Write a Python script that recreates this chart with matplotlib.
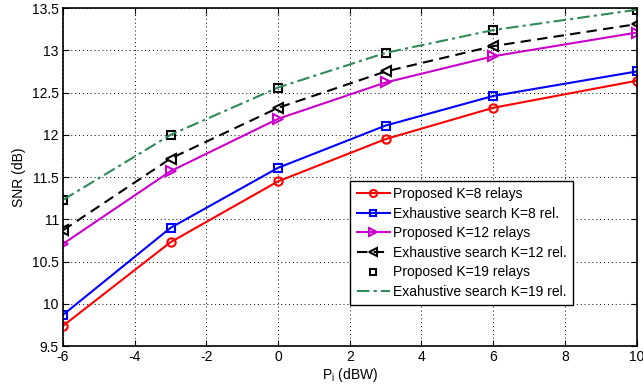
import matplotlib
matplotlib.use('Agg')
import matplotlib.pyplot as plt

plt.rcParams['font.family'] = ['Liberation Sans', 'DejaVu Sans']
plt.rcParams['mathtext.fontset'] = 'custom'
plt.rcParams['mathtext.rm'] = 'Liberation Sans'
plt.rcParams['mathtext.it'] = 'Liberation Sans'
plt.rcParams['axes.unicode_minus'] = False

# transmit power values (dBW)
p_dbw = [-6, -3, 0, 3, 6, 10]

# SNR (dB) for each scheme
prop_k8 = [9.74, 10.73, 11.45, 11.95, 12.32, 12.64]
exh_k8 = [9.87, 10.90, 11.61, 12.11, 12.46, 12.75]
prop_k12 = [10.71, 11.57, 12.19, 12.62, 12.93, 13.21]
exh_k12 = [10.87, 11.72, 12.32, 12.75, 13.05, 13.31]
prop_k19 = [11.23, 12.00, 12.56, 12.97, 13.24, 13.48]
exh_k19 = [11.23, 12.00, 12.56, 12.97, 13.24, 13.48]

labels = ['Proposed K=8 relays', 'Exhaustive search K=8 rel.',
          'Proposed K=12 relays', 'Exhaustive search K=12 rel.',
          'Proposed K=19 relays', 'Exahustive search K=19 rel.']

fig, ax = plt.subplots(figsize=(6.43, 3.85), dpi=100)
fig.subplots_adjust(left=0.098, right=0.99, top=0.979, bottom=0.101)

ax.plot(p_dbw, prop_k8, color='red', lw=1.5, marker='o', ms=6, mfc='none', mew=1.5, label=labels[0])
ax.plot(p_dbw, exh_k8, color='blue', lw=1.5, marker='s', ms=5.5, mfc='none', mew=1.5, label=labels[1])
ax.plot(p_dbw, prop_k12, color='#cc00cc', lw=1.5, marker='>', ms=7, mfc='none', mew=1.5, label=labels[2])
ax.plot(p_dbw, exh_k12, color='black', lw=1.5, ls=(0, (5, 3)), marker='<', ms=7, mfc='none', mew=1.5, label=labels[3])
ax.plot(p_dbw, prop_k19, color='black', ls='none', marker='s', ms=5.5, mfc='none', mew=1.5, label=labels[4])
ax.plot(p_dbw, exh_k19, color='#2e8b57', lw=1.5, ls=(0, (6, 2, 1.5, 2)), label=labels[5])

ax.set_xlim(-6, 10)
ax.set_ylim(9.5, 13.5)
ax.set_xticks([-6, -4, -2, 0, 2, 4, 6, 8, 10])
ax.set_yticks([9.5, 10, 10.5, 11, 11.5, 12, 12.5, 13, 13.5])
ax.set_yticklabels(['9.5', '10', '10.5', '11', '11.5', '12', '12.5', '13', '13.5'])
ax.tick_params(direction='in', top=True, right=True, labelsize=10, length=4, pad=3)
ax.grid(True, color='black', ls=(0, (1, 3)), lw=0.7)
for s in ax.spines.values():
    s.set_linewidth(1.2)

ax.set_xlabel(r'P$_\mathregular{i}$ (dBW)', fontsize=10, labelpad=1)
ax.set_ylabel('SNR (dB)', fontsize=10, labelpad=4)

leg = ax.legend(loc='lower right', bbox_to_anchor=(0.89, 0.121), borderaxespad=0,
                fontsize=10, markerscale=0.85,
                fancybox=False, edgecolor='black', framealpha=1,
                handlelength=2.4, borderpad=0.45, labelspacing=0.4, handletextpad=0.25)
leg.get_frame().set_linewidth(1.0)

fig.savefig('out.png', dpi=100)
